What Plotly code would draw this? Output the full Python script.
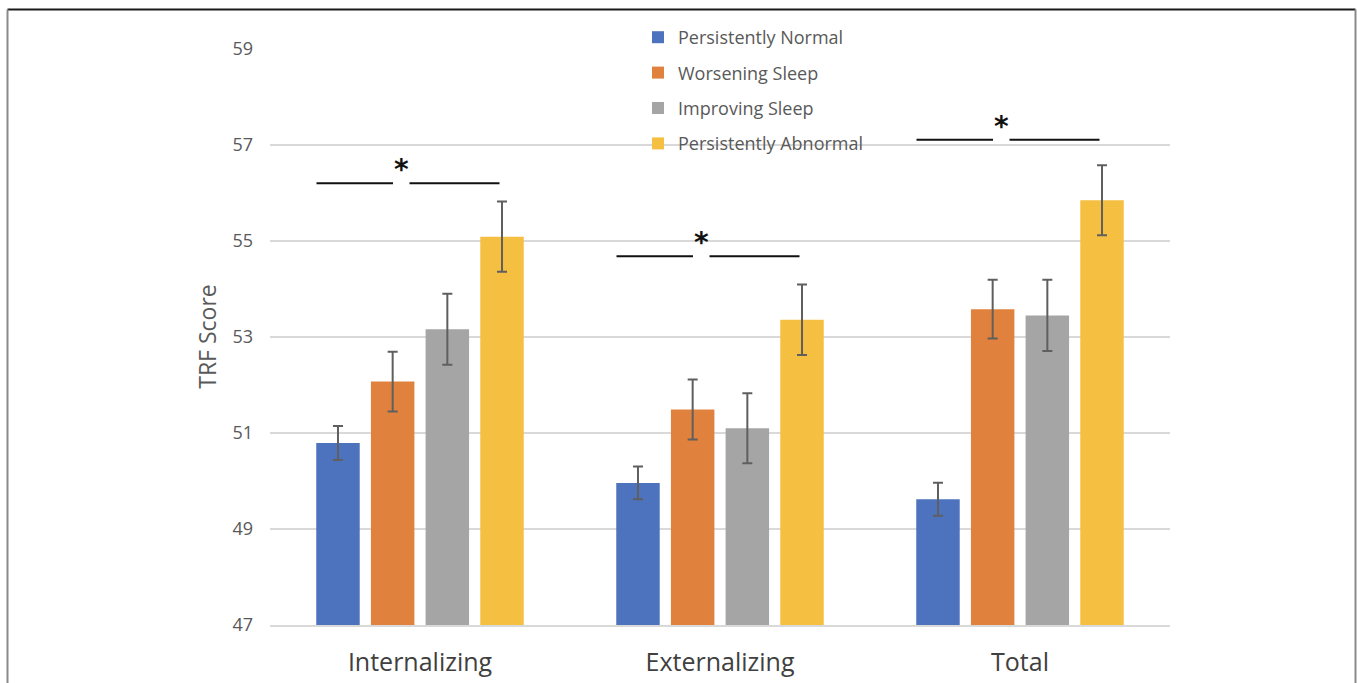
import plotly.graph_objects as go

# TRF scores by sleep trajectory group
categories = ["Internalizing", "Externalizing", "Total"]
groups = ["Persistently Normal", "Worsening Sleep", "Improving Sleep", "Persistently Abnormal"]

persistently_normal = [50.79, 49.96, 49.62]
worsening_sleep = [52.07, 51.49, 53.58]
improving_sleep = [53.16, 51.10, 53.45]
persistently_abnormal = [55.09, 53.36, 55.85]

err_normal = [0.355, 0.34, 0.345]
err_worsening = [0.62, 0.625, 0.61]
err_improving = [0.74, 0.73, 0.74]
err_abnormal = [0.73, 0.735, 0.73]

y_ticks = [47, 49, 51, 53, 55, 57, 59]

means = [persistently_normal, worsening_sleep, improving_sleep, persistently_abnormal]
errors = [err_normal, err_worsening, err_improving, err_abnormal]
colors = ["#4E73BE", "#E0823D", "#A5A5A5", "#F5BF42"]

# significance brackets (one per category) drawn above the bars
bracket_y = [56.2, 54.68, 57.11]

FONT = "Open Sans"

fig = go.Figure()
for name, m, e, c in zip(groups, means, errors, colors):
    fig.add_trace(go.Bar(
        x=categories, y=m, name=name, legendgroup=name,
        marker=dict(color=c, line=dict(width=0)),
        error_y=dict(type="data", array=e, visible=True,
                     color="#5F5F5F", thickness=2, width=5),
    ))

shapes = []
annotations = []
for i, yb in enumerate(bracket_y):
    for x0, x1 in [(-0.345, -0.09), (-0.035, 0.265)]:
        shapes.append(dict(type="line", xref="x", yref="y",
                           x0=i + x0, x1=i + x1, y0=yb, y1=yb,
                           line=dict(color="#111111", width=2)))
    annotations.append(dict(x=i - 0.063, y=yb + 0.28, xref="x", yref="y",
                            text="<b>*</b>", showarrow=False,
                            font=dict(family="DejaVu Sans", size=28, color="#111111"),
                            xanchor="center", yanchor="middle"))

# outer frame
shapes.append(dict(type="line", xref="paper", yref="paper",
                   x0=(7.5 - 270) / 900, x1=(1355.5 - 270) / 900,
                   y0=1 + (48 - 9.5) / 577, y1=1 + (48 - 9.5) / 577,
                   line=dict(color="#1a1a1a", width=2)))
for px in (7.5, 1355.5):
    shapes.append(dict(type="line", xref="paper", yref="paper",
                       x0=(px - 270) / 900, x1=(px - 270) / 900,
                       y0=1 + (48 - 9.5) / 577, y1=-(690 - 625) / 577,
                       line=dict(color="#8a8a8a", width=2)))

fig.update_layout(
    width=1357, height=683,
    margin=dict(l=270, r=187, t=48, b=58, autoexpand=False),
    paper_bgcolor="white", plot_bgcolor="white",
    barmode="group", bargap=0.271, bargroupgap=0.205,
    font=dict(family=FONT, color="#595959"),
    showlegend=True,
    legend=dict(
        x=(638 - 270) / 900, y=1 + (48 - 19) / 577,
        xanchor="left", yanchor="top",
        bgcolor="rgba(0,0,0,0)", borderwidth=0,
        font=dict(family=FONT, size=18, color="#595959"),
        traceorder="grouped", tracegroupgap=9,
        itemwidth=30,
    ),
    xaxis=dict(
        categoryorder="array", categoryarray=categories,
        range=[-0.5, 2.5], automargin=False,
        showgrid=False, zeroline=False,
        showline=True, linecolor="#D9D9D9", linewidth=1.5,
        tickfont=dict(family=FONT, size=25, color="#404040"),
        ticks="", ticklabelstandoff=14,
    ),
    yaxis=dict(
        range=[47, 59.02], tickvals=y_ticks, automargin=False,
        showgrid=True, gridcolor="#D9D9D9", gridwidth=1.5,
        zeroline=False, showline=False,
        tickfont=dict(family=FONT, size=18, color="#595959"),
        ticks="", ticklabelstandoff=16,
        title=dict(text="TRF Score", font=dict(family=FONT, size=23, color="#595959"),
                   standoff=9),
    ),
    shapes=shapes,
    annotations=annotations,
)

fig.write_html("out.html")
